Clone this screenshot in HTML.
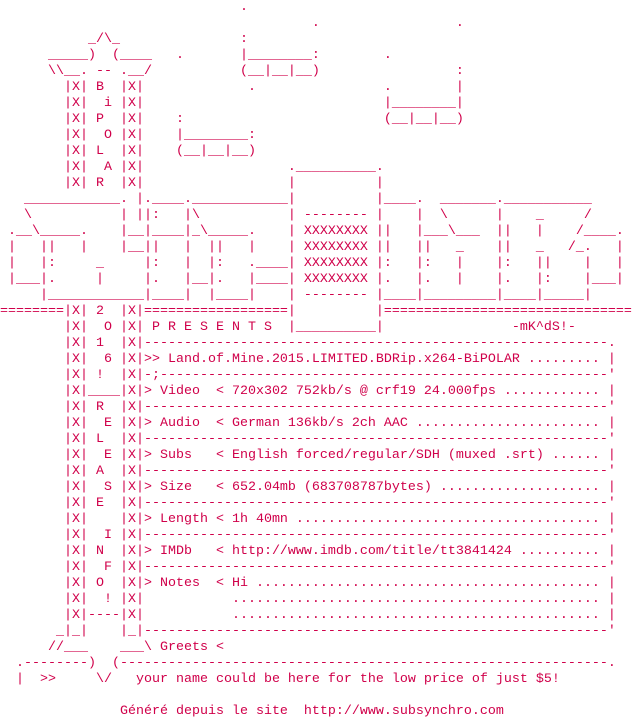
<!DOCTYPE html>
<html><head><meta charset="utf-8"><style>
html,body{margin:0;padding:0;background:#fff;width:632px;height:720px;overflow:hidden}
pre{margin:0;padding:0;font-family:"Liberation Mono","DejaVu Sans Mono",monospace;font-size:13.333px;line-height:16px;color:#d0004a;white-space:pre}
</style></head><body><pre>                              .
                                       .                 .
           _/\_               :
      _____)  (____   .       |________:        .
      \\__. -- .__/           (__|__|__)                 :
        |X| B  |X|             .                .        |
        |X|  i |X|                              |________|
        |X| P  |X|    :                         (__|__|__)
        |X|  O |X|    |________:
        |X| L  |X|    (__|__|__)
        |X|  A |X|                  .__________.
        |X| R  |X|                  |          |
   ____________. |.____.____________|          |____.  _______.___________
   \           | ||:   |\           | -------- |    |  \      |    _     /
 .__\_____.    |__|____|_\_____.    | XXXXXXXX ||   |___\___  ||   |    /____.
 |   ||   |    |__||   |  ||   |    | XXXXXXXX ||   ||   _    ||   _   /_.   |
 |   |:     _     |:   |  |:   .____| XXXXXXXX |:   |:   |    |:   ||    |   |
 |___|.     |     |.   |__|.   |____| XXXXXXXX |.   |.   |    |.   |:    |___|
     |____________|____|  |____|    | -------- |____|_________|____|_____|
========|X| 2  |X|==================|          |===============================
        |X|  O |X| P R E S E N T S  |__________|                -mK^dS!-
        |X| 1  |X|----------------------------------------------------------.
        |X|  6 |X|&gt;&gt; Land.of.Mine.2015.LIMITED.BDRip.x264-BiPOLAR ......... |
        |X| !  |X|-;--------------------------------------------------------'
        |X|____|X|&gt; Video  &lt; 720x302 752kb/s @ crf19 24.000fps ............ |
        |X| R  |X|----------------------------------------------------------'
        |X|  E |X|&gt; Audio  &lt; German 136kb/s 2ch AAC ....................... |
        |X| L  |X|----------------------------------------------------------'
        |X|  E |X|&gt; Subs   &lt; English forced/regular/SDH (muxed .srt) ...... |
        |X| A  |X|----------------------------------------------------------'
        |X|  S |X|&gt; Size   &lt; 652.04mb (683708787bytes) .................... |
        |X| E  |X|----------------------------------------------------------'
        |X|    |X|&gt; Length &lt; 1h 40mn ...................................... |
        |X|  I |X|----------------------------------------------------------'
        |X| N  |X|&gt; IMDb   &lt; http://www.imdb.com/title/tt3841424 .......... |
        |X|  F |X|----------------------------------------------------------'
        |X| O  |X|&gt; Notes  &lt; Hi ........................................... |
        |X|  ! |X|           .............................................. |
        |X|----|X|           .............................................. |
       _|_|    |_|----------------------------------------------------------'
      //___    ___\ Greets &lt;
  .--------)  (-------------------------------------------------------------.
  |  &gt;&gt;     \/   your name could be here for the low price of just $5!

               Généré depuis le site  http://www.subsynchro.com
</pre></body></html>
